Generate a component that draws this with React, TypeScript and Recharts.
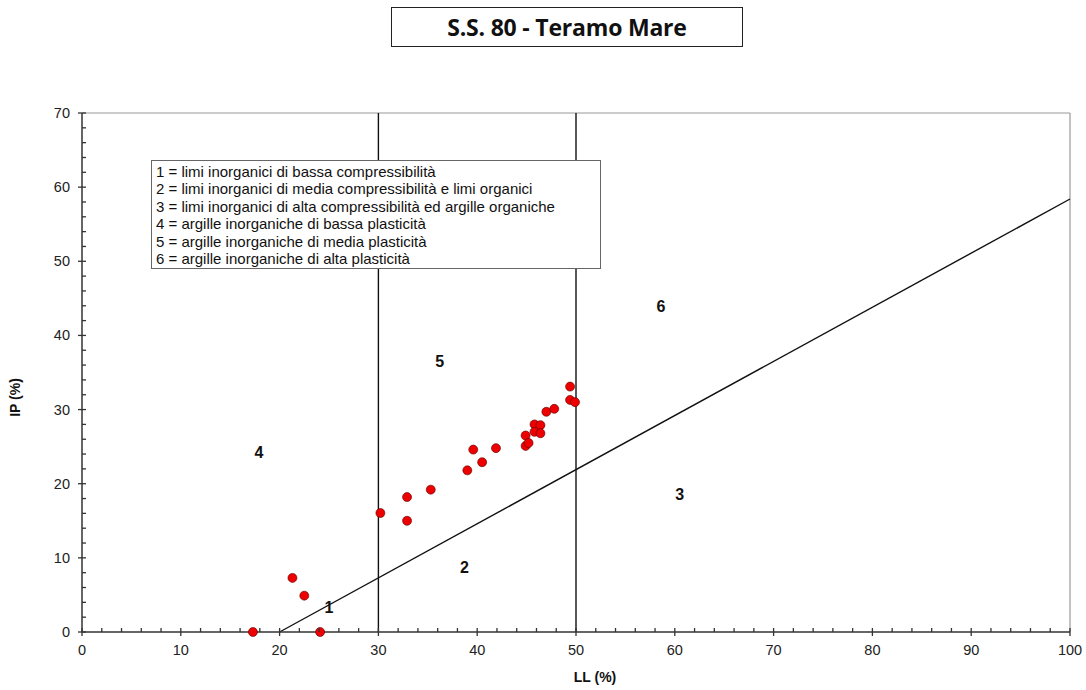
import React from 'react';
import {
  ScatterChart,
  Scatter,
  XAxis,
  YAxis,
  ReferenceLine,
} from 'recharts';

// campioni: limite liquido (LL) e indice di plasticità (IP)
const llValues = [17.3, 24.1, 21.3, 22.5, 30.2, 32.9, 32.9, 35.3, 39.0, 39.6, 40.5, 41.9, 44.9, 44.9, 45.2, 45.8, 46.4, 45.8, 46.4, 47.0, 47.8, 49.4, 49.4, 49.9];
const ipValues = [0, 0, 7.3, 4.9, 16.05, 18.2, 15.0, 19.2, 21.8, 24.6, 22.9, 24.8, 26.5, 25.1, 25.5, 28.0, 27.9, 27.0, 26.8, 29.7, 30.1, 33.1, 31.3, 31.0];

// retta A di Casagrande: IP = 0.73 (LL - 20)
const aLineLL = [20, 100];
const aLineIP = [0, 58.4];
const limitLL = [30, 50];

const zoneNames = ['1', '2', '3', '4', '5', '6'];
const zoneLL = [25.0, 38.7, 60.5, 17.9, 36.2, 58.6];
const zoneIP = [3.4, 8.8, 18.6, 24.3, 36.6, 44.0];

const legendLines = [
  '1 = limi inorganici di bassa compressibilità',
  '2 = limi inorganici di media compressibilità e limi organici',
  '3 = limi inorganici di alta compressibilità ed argille organiche',
  '4 = argille inorganiche di bassa plasticità',
  '5 = argille inorganiche di media plasticità',
  '6 = argille inorganiche di alta plasticità',
];

const xTicks = Array.from({ length: 51 }, (_, i) => i * 2);
const yTicks = Array.from({ length: 36 }, (_, i) => i * 2);

const points = llValues.map((ll, i) => ({ ll, ip: ipValues[i] }));
const zones = zoneNames.map((name, i) => ({ ll: zoneLL[i], ip: zoneIP[i], name }));

const FONT = '"Liberation Sans", Arial, sans-serif';
const AXIS = '#333';

const XTick = (props: any) => {
  const { x, y, payload } = props;
  const major = payload.value % 10 === 0;
  return (
    <g>
      <line x1={x} x2={x} y1={y - 4} y2={major ? y + 4 : y} stroke={AXIS} strokeWidth={1.3} />
      {major && (
        <text x={x} y={y + 23} textAnchor="middle" fontSize={14.5} fontFamily={FONT} fill="#222">
          {payload.value}
        </text>
      )}
    </g>
  );
};

const YTick = (props: any) => {
  const { x, y, payload } = props;
  const major = payload.value % 10 === 0;
  return (
    <g>
      <line x1={major ? x - 4 : x} x2={x + 4} y1={y} y2={y} stroke={AXIS} strokeWidth={1.3} />
      {major && (
        <text x={x - 12} y={y + 5} textAnchor="end" fontSize={14.5} fontFamily={FONT} fill="#222">
          {payload.value}
        </text>
      )}
    </g>
  );
};

const Dot = (props: any) => (
  <circle cx={props.cx} cy={props.cy} r={4.5} fill="#ee0000" stroke="#550000" strokeWidth={0.6} />
);

const ZoneLabel = (props: any) => (
  <text
    x={props.cx}
    y={props.cy + 6}
    textAnchor="middle"
    fontSize={16}
    fontWeight="bold"
    fontFamily={FONT}
    fill="#111"
  >
    {props.payload.name}
  </text>
);

export default function App() {
  return (
    <div style={{ position: 'absolute', left: 0, top: 0, width: 1086, height: 690, background: '#fff' }}>
      <div
        style={{
          position: 'absolute',
          left: 391,
          top: 7,
          width: 350,
          height: 38,
          border: '1px solid #222',
          display: 'flex',
          alignItems: 'center',
          justifyContent: 'center',
          fontFamily: '"Open Sans", sans-serif',
          fontWeight: 700,
          fontSize: 23,
          letterSpacing: -0.2,
          color: '#111',
        }}
      >
        S.S. 80 - Teramo Mare
      </div>

      <ScatterChart width={1086} height={690} margin={{ top: 113, right: 16, bottom: 8, left: 6 }}>
        <XAxis
          type="number"
          dataKey="ll"
          domain={[0, 100]}
          ticks={xTicks}
          interval={0}
          tick={<XTick />}
          tickLine={false}
          tickSize={0}
          tickMargin={0}
          height={50}
          axisLine={{ stroke: AXIS, strokeWidth: 1.5 }}
          label={{
            content: (p: any) => (
              <text
                x={p.viewBox.x + p.viewBox.width / 2 + 19}
                y={p.viewBox.y + 50}
                textAnchor="middle"
                fontSize={14}
                fontWeight="bold"
                fontFamily={FONT}
                fill="#111"
              >
                LL (%)
              </text>
            ),
          }}
        />
        <YAxis
          type="number"
          dataKey="ip"
          domain={[0, 70]}
          ticks={yTicks}
          interval={0}
          tick={<YTick />}
          tickLine={false}
          tickSize={0}
          tickMargin={0}
          width={76}
          axisLine={{ stroke: AXIS, strokeWidth: 1.5 }}
          label={{
            content: (p: any) => {
              const cx = p.viewBox.x + 10;
              const cy = p.viewBox.y + p.viewBox.height / 2 + 25;
              return (
                <text
                  x={cx}
                  y={cy}
                  transform={`rotate(-90 ${cx} ${cy})`}
                  textAnchor="middle"
                  dominantBaseline="middle"
                  fontSize={14}
                  fontWeight="bold"
                  fontFamily={FONT}
                  fill="#111"
                >
                  IP (%)
                </text>
              );
            },
          }}
        />

        <ReferenceLine y={70} stroke="#999" strokeWidth={1.2} />
        <ReferenceLine x={100} stroke="#999" strokeWidth={1.2} />
        {limitLL.map((v) => (
          <ReferenceLine key={v} x={v} stroke="#111" strokeWidth={1.4} />
        ))}
        <ReferenceLine
          segment={[
            { x: aLineLL[0], y: aLineIP[0] },
            { x: aLineLL[1], y: aLineIP[1] },
          ]}
          stroke="#111"
          strokeWidth={1.4}
        />

        <Scatter data={zones} shape={<ZoneLabel />} isAnimationActive={false} />
        <Scatter data={points} shape={<Dot />} isAnimationActive={false} />
      </ScatterChart>

      <div
        style={{
          position: 'absolute',
          left: 151,
          top: 160,
          width: 444,
          height: 105,
          border: '1px solid #666',
          background: '#fff',
          padding: '2px 0 0 4px',
          fontFamily: FONT,
          fontSize: 15,
          lineHeight: '17.4px',
          color: '#111',
        }}
      >
        {legendLines.map((t) => (
          <div key={t}>{t}</div>
        ))}
      </div>
    </div>
  );
}
